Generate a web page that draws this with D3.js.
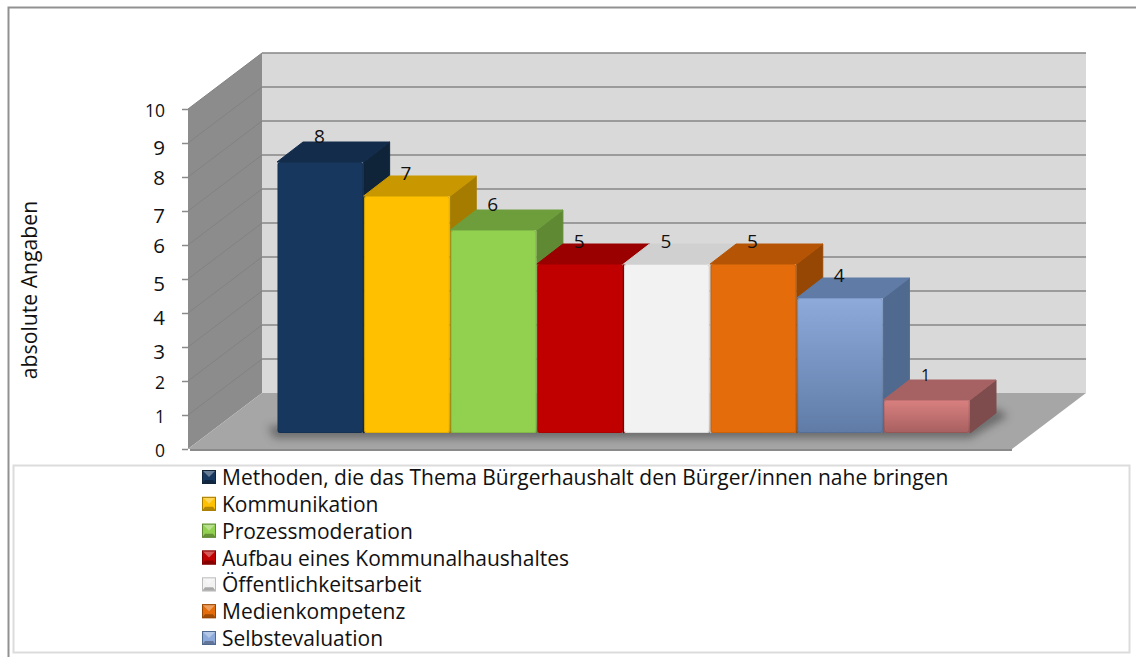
<!DOCTYPE html>
<html><head><meta charset="utf-8">
<script src="https://cdnjs.cloudflare.com/ajax/libs/d3/7.8.5/d3.min.js"></script>
<style>html,body{margin:0;padding:0;background:#fff}svg{display:block}text{font-family:"Open Sans","Noto Sans",sans-serif;fill:#111}</style>
</head><body><div id="c"></div>
<script>
const categories=["Methoden, die das Thema Bürgerhaushalt den Bürger/innen nahe bringen","Kommunikation","Prozessmoderation","Aufbau eines Kommunalhaushaltes","Öffentlichkeitsarbeit","Medienkompetenz","Selbstevaluation","Sonstiges"];
const values=[8,7,6,5,5,5,4,1];
const frontColors=["#17375e","#ffc000","#92d050","#c00000","#f2f2f2","#e46c0a","#8eaadb","#d98080"];
const frontBottom=["#17375e","#ffc000","#92d050","#c00000","#f2f2f2","#e46c0a","#5f7ba6","#a86060"];
const topColors=["#132c4b","#c99700","#6e9e3c","#9a0000","#d0d0d0","#b55405","#5f7ba6","#a66262"];
const sideColors=["#0f2439","#a67c00","#5f8a33","#820000","#bdbdbd","#964703","#4f6a8e","#7e4c4c"];
const legendShown=7;
const yTicks=[0,1,2,3,4,5,6,7,8,9,10];
const axisTitle="absolute Angaben";
// old-style figures: descending digits sit lower, small digits are x-height
const digitDrop={3:4,4:4,5:4,7:4,9:4};
const digitSmall=[0,1,2,10];

const W=1136,H=657;
const svg=d3.select("#c").append("svg").attr("width",W).attr("height",H);
const defs=svg.append("defs");
const f=defs.append("filter").attr("id","sh").attr("x","-10%").attr("y","-50%").attr("width","120%").attr("height","200%");
f.append("feGaussianBlur").attr("stdDeviation",4);
categories.forEach((c,i)=>{
  const g=defs.append("linearGradient").attr("id","g"+i).attr("x1",0).attr("x2",0).attr("y1",0).attr("y2",1);
  g.append("stop").attr("offset","0").attr("stop-color",frontColors[i]);
  g.append("stop").attr("offset","1").attr("stop-color",frontBottom[i]);
});
const dep={x:74,y:56};      // wall depth
const barDep={x:26,y:20};   // bar depth
const yAxisScale=d3.scaleLinear().domain([0,10]).range([449,109]);
const yBar=d3.scaleLinear().domain([0,10]).range([434,94]);
const x=d3.scaleBand().domain(categories).range([277,970]).paddingInner(0);
const plotR=1012;
const line=d3.line();

// outer frame
svg.append("path").attr("d","M8.5 657V7.5H1136").attr("fill","none").attr("stroke","#919191").attr("stroke-width",2);
// back wall
svg.append("rect").attr("x",188+dep.x).attr("y",yAxisScale(10)-dep.y).attr("width",plotR-188).attr("height",340).attr("fill","#d9d9d9");
// side wall
svg.append("path").attr("d",line([[188,yAxisScale(0)],[188,yAxisScale(10)],[188+dep.x,yAxisScale(10)-dep.y],[188+dep.x,yAxisScale(0)-dep.y]])+"Z").attr("fill","#8c8c8c");
// floor
svg.append("path").attr("d",line([[188,yAxisScale(0)],[188+dep.x,yAxisScale(0)-dep.y],[plotR+dep.x,yAxisScale(0)-dep.y],[plotR,yAxisScale(0)]])+"Z").attr("fill","#a6a6a6");
svg.append("line").attr("x1",190).attr("x2",plotR).attr("y1",450).attr("y2",450).attr("stroke","#8a8a8a").attr("stroke-width",2);
// gridlines
const gt=yTicks.filter(d=>d>0);
svg.append("g").selectAll("line").data(gt).join("line").attr("x1",188+dep.x).attr("x2",plotR+dep.x)
 .attr("y1",d=>yAxisScale(d)-dep.y).attr("y2",d=>yAxisScale(d)-dep.y).attr("stroke","#868686").attr("stroke-width",1.6);
svg.append("g").selectAll("line").data(gt).join("line").attr("x1",188).attr("x2",188+dep.x)
 .attr("y1",d=>yAxisScale(d)).attr("y2",d=>yAxisScale(d)-dep.y).attr("stroke","#828282").attr("stroke-width",1);
// axis
const ax=svg.append("g").attr("transform","translate(188,0)").call(d3.axisLeft(yAxisScale).tickValues(yTicks).tickSize(6).tickPadding(17).tickFormat(d3.format("d")));
ax.select(".domain").remove();
ax.selectAll("line").attr("stroke","#8a8a8a").attr("stroke-width",1.5);
ax.selectAll("text").attr("font-size",d=>digitSmall.includes(d)?17.5:20.5)
  .attr("dy","0.36em")
  .attr("y",d=>(digitDrop[d]||0)+(digitSmall.includes(d)?1:0));
svg.append("text").attr("transform","translate(37,290) rotate(-90)").attr("text-anchor","middle").attr("font-size",21.2).text(axisTitle);
// floor shadow around the bar footprint
const xEnd=x.range()[1];
svg.append("path").attr("d",line([[268,426],[274,438],[xEnd,438],[xEnd+barDep.x+12,416],[xEnd+barDep.x,408],[xEnd,424]])+"Z").attr("fill","#444").attr("opacity",.62).attr("filter","url(#sh)");
// bars
const bars=svg.append("g").selectAll("g").data(categories.map((c,i)=>({c,i,v:values[i]}))).join("g");
bars.each(function(d){
  const g=d3.select(this),l=x(d.c),r=l+x.bandwidth(),t=yBar(d.v),b=yBar(0)-1;
  g.append("path").attr("d",line([[r,t],[r+barDep.x,t-barDep.y],[r+barDep.x,b-barDep.y],[r,b]])+"Z").attr("fill",sideColors[d.i]).attr("stroke",sideColors[d.i]).attr("stroke-linejoin","round");
  g.append("path").attr("d",line([[l,t],[l+barDep.x,t-barDep.y],[r+barDep.x,t-barDep.y],[r,t]])+"Z").attr("fill",topColors[d.i]).attr("stroke",topColors[d.i]).attr("stroke-linejoin","round");
  g.append("rect").attr("x",l+.5).attr("y",t).attr("width",x.bandwidth()-1).attr("height",b-t).attr("rx",2.5).attr("fill",`url(#g${d.i})`);
  g.append("rect").attr("x",l+1).attr("y",t+.5).attr("width",x.bandwidth()-2).attr("height",b-t-1).attr("rx",2.5).attr("fill","none").attr("stroke","#000").attr("stroke-opacity",.1);
});
// value labels
svg.append("g").selectAll("text").data(categories.map((c,i)=>({c,v:values[i]}))).join("text")
 .attr("x",d=>x(d.c)+x.bandwidth()/2-1).attr("y",d=>yBar(d.v)-(digitDrop[d.v]?16:19)).attr("text-anchor","middle").attr("font-size",d=>digitSmall.includes(d.v)?16:19).text(d=>d.v);
// legend box
svg.append("rect").attr("x",13.5).attr("y",465.5).attr("width",1116).attr("height",187).attr("fill","#fff").attr("stroke","#dcdcdc").attr("stroke-width",2);
const rowY=d3.scaleLinear().domain([0,6]).range([477,638]);
const lg=svg.append("g").selectAll("g").data(categories.slice(0,legendShown)).join("g").attr("transform",(d,i)=>`translate(0,${rowY(i)})`);
lg.append("rect").attr("x",202).attr("y",-7).attr("width",14).attr("height",14).attr("fill",(d,i)=>frontColors[i]);
lg.append("path").attr("d",line([[202,-7],[216,-7],[209,0]])+"Z").attr("fill","#fff").attr("opacity",.35);
lg.append("path").attr("d",line([[202,7],[216,7],[213,3],[205,3]])+"Z").attr("fill","#000").attr("opacity",.3);
lg.append("rect").attr("x",202.5).attr("y",-6.5).attr("width",13).attr("height",13).attr("fill","none").attr("stroke",(d,i)=>sideColors[i]);
lg.append("text").attr("x",222).attr("y",8).attr("font-size",21).text(d=>d);
</script></body></html>
